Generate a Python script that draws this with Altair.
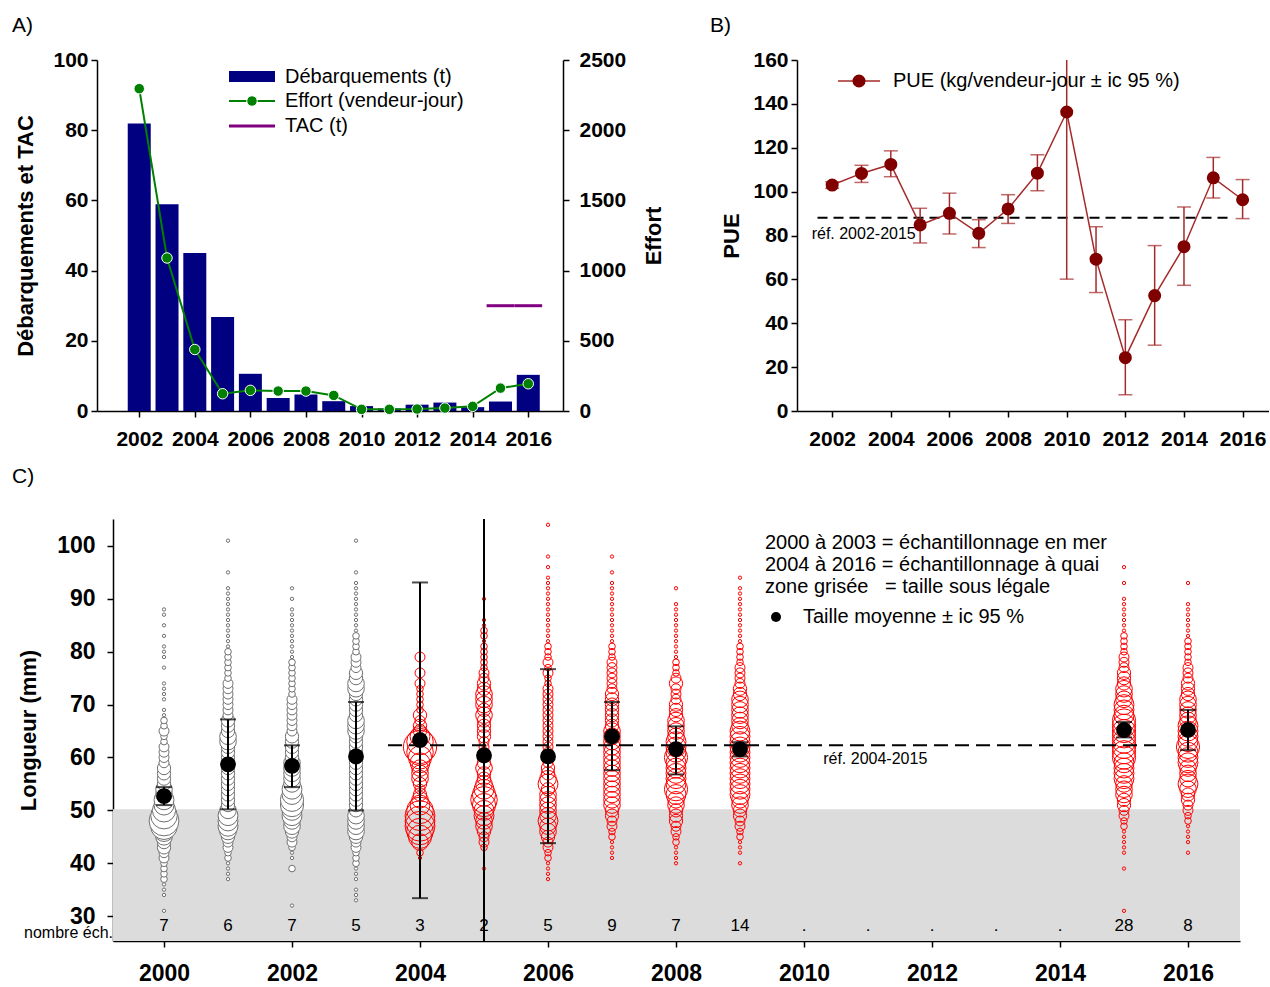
import altair as alt
import pandas as pd

FONT = "Liberation Sans"

# ---------------- Panel A : landings, effort, TAC ----------------
YEARS_A = list(range(2002, 2017))
LANDINGS_T = [81.9, 58.9, 45.0, 26.8, 10.6, 3.7, 4.7, 2.8, 1.4, 0.7, 1.8, 2.4, 1.1, 2.7, 10.3]
EFFORT_VJ = [2296, 1090, 438, 123, 147, 142, 142, 111, 12, 12, 14, 21, 33, 163, 194]
TAC_YEARS = [2015, 2016]
TAC_T = [30, 30]

# ---------------- Panel B : CPUE ----------------
YEARS_B = list(range(2002, 2017))
PUE = [103.0, 108.3, 112.4, 84.8, 90.1, 81.0, 92.1, 108.4, 136.3, 69.2, 24.3, 52.6, 74.9, 106.3, 96.3]
PUE_LO = [101.5, 104.2, 106.8, 76.6, 80.7, 74.5, 85.5, 100.4, 60.1, 54.0, 7.4, 30.0, 57.3, 97.1, 87.7]
PUE_HI = [104.5, 112.0, 118.6, 92.4, 99.3, 87.2, 98.6, 116.8, 212.5, 84.0, 41.6, 75.4, 93.0, 115.6, 105.5]
PUE_REF = 88.1
PUE_REF_YEARS = [2002, 2015]

# ---------------- Panel C : length frequencies ----------------
YEARS_C = [2000, 2001, 2002, 2003, 2004, 2005, 2006, 2007, 2008, 2009, 2015, 2016]
MEAN_C = [52.7, 58.7, 58.4, 60.2, 63.3, 60.4, 60.2, 64.0, 61.6, 61.6, 65.2, 65.2]
LO_C = [51.0, 50.2, 54.4, 50.0, 33.4, 8.4, 43.8, 57.6, 56.8, 60.2, 63.8, 61.4]
HI_C = [54.4, 67.2, 62.3, 70.5, 93.1, 112.4, 76.7, 70.5, 65.9, 62.9, 66.7, 69.0]
COUNT_YEARS = list(range(2000, 2017))
COUNT_LABELS = ["7", "6", "7", "5", "3", "2", "5", "9", "7", "14", ".", ".", ".", ".", ".", "28", "8"]
SEA_YEARS = [2000, 2001, 2002, 2003]
LEGAL_SIZE = 50.2
LEN_REF = 62.3
LEN_REF_YEARS = [2004, 2015]

# relative frequency index per 1 mm length class (first class = *_START)
F2000_START = 31
F2000 = [1, 0, 0, 1, 1, 1, 2, 2, 2, 2, 3, 3, 4, 4, 5, 6, 8, 9, 8, 7, 6, 6, 5, 5, 4, 4, 4, 4, 3, 3,
         3, 3, 2, 2, 3, 2, 2, 1, 1, 0, 1, 1, 1, 1, 0, 0, 1, 0, 1, 1, 1, 0, 1, 0, 1, 0, 1, 1]
F2001_START = 37
F2001 = [1, 1, 1, 1, 2, 2, 3, 3, 4, 5, 6, 6, 6, 5, 4, 4, 4, 4, 4, 4, 4, 4, 4, 4, 4, 4, 5, 5, 4, 4,
         4, 3, 3, 3, 3, 3, 3, 3, 2, 2, 2, 2, 2, 2, 1, 1, 1, 1, 1, 1, 1, 1, 1, 1, 1, 1, 0, 0, 1, 0,
         0, 0, 0, 0, 1]
F2002_START = 32
F2002 = [1, 0, 0, 0, 0, 0, 0, 2, 0, 1, 1, 2, 3, 3, 4, 5, 5, 6, 6, 7, 7, 6, 6, 5, 5, 5, 5, 5, 4, 4,
         4, 4, 4, 3, 3, 3, 3, 3, 3, 3, 2, 2, 2, 2, 2, 2, 2, 1, 1, 1, 1, 1, 1, 1, 1, 1, 1, 0, 1, 0, 1]
F2003_START = 33
F2003 = [1, 1, 1, 0, 1, 1, 1, 2, 2, 2, 3, 3, 4, 5, 5, 5, 5, 4, 4, 4, 4, 4, 4, 4, 4, 4, 4, 4, 4, 4,
         4, 4, 5, 5, 5, 4, 4, 4, 4, 4, 5, 5, 4, 4, 3, 3, 3, 2, 2, 2, 2, 1, 1, 1, 1, 1, 1, 1, 1, 1,
         1, 0, 1, 0, 0, 0, 0, 0, 1]
F2004_START = 41
F2004 = [1, 2, 0, 5, 7, 8, 9, 9, 9, 8, 6, 5, 4, 3, 4, 5, 5, 5, 6, 7, 8, 10, 8, 6, 4, 4, 3, 4, 2, 2,
         2, 2, 2, 3, 0, 3, 0, 0, 3]
F2005_START = 39
F2005 = [1, 0, 0, 0, 2, 3, 3, 4, 5, 5, 6, 6, 7, 8, 7, 6, 5, 4, 4, 5, 4, 3, 3, 3, 3, 4, 4, 4, 4, 5,
         4, 5, 5, 5, 4, 4, 3, 3, 2, 2, 2, 2, 2, 1, 2, 2, 1, 1, 0, 0, 0, 1]
F2006_START = 37
F2006 = [1, 1, 1, 1, 2, 2, 3, 3, 4, 5, 5, 6, 5, 5, 5, 5, 5, 4, 6, 5, 4, 4, 3, 3, 3, 3, 3, 3, 3, 3,
         3, 3, 3, 3, 3, 3, 3, 2, 2, 3, 2, 3, 2, 2, 2, 1, 1, 1, 1, 1, 1, 1, 1, 1, 1, 1, 1, 1, 0, 1,
         0, 1, 0, 0, 0, 0, 0, 1]
F2007_START = 41
F2007 = [1, 1, 1, 1, 2, 2, 3, 3, 4, 4, 5, 5, 5, 5, 5, 5, 5, 5, 5, 5, 5, 5, 5, 5, 5, 4, 4, 4, 4, 4,
         4, 4, 3, 3, 3, 3, 3, 3, 2, 2, 2, 1, 1, 1, 1, 1, 1, 1, 1, 1, 1, 1, 1, 0, 1, 0, 0, 1]
F2008_START = 40
F2008 = [1, 1, 1, 1, 2, 2, 3, 3, 4, 4, 4, 5, 5, 6, 7, 6, 6, 6, 6, 6, 7, 6, 6, 6, 5, 5, 5, 5, 4, 4,
         4, 3, 3, 3, 4, 3, 2, 2, 2, 1, 1, 1, 1, 1, 1, 1, 1, 1, 1, 1, 0, 0, 1]
F2009_START = 40
F2009 = [1, 0, 1, 1, 1, 2, 2, 3, 3, 4, 4, 5, 5, 6, 6, 6, 6, 6, 6, 6, 6, 6, 6, 6, 6, 6, 5, 5, 5, 5,
         5, 5, 4, 4, 3, 3, 3, 3, 2, 2, 2, 2, 1, 1, 1, 1, 1, 1, 1, 1, 1, 1, 1, 0, 1]
F2015_START = 31
F2015 = [1, 0, 0, 0, 0, 0, 0, 0, 1, 0, 0, 1, 1, 1, 1, 1, 2, 2, 3, 3, 4, 4, 5, 5, 5, 6, 6, 6, 6, 7,
         7, 7, 7, 7, 7, 7, 7, 6, 6, 6, 5, 5, 5, 4, 4, 4, 3, 3, 3, 2, 2, 2, 2, 1, 1, 1, 1, 1, 1, 1,
         0, 0, 1, 0, 0, 1]
F2016_START = 42
F2016 = [1, 0, 1, 1, 1, 1, 2, 2, 3, 3, 4, 4, 5, 6, 5, 5, 5, 6, 6, 6, 7, 6, 6, 6, 6, 5, 5, 5, 5, 5,
         4, 4, 4, 3, 3, 3, 2, 2, 2, 2, 2, 1, 1, 1, 1, 1, 1, 1, 0, 0, 0, 1]

FREQS = {
    2000: (F2000_START, F2000), 2001: (F2001_START, F2001), 2002: (F2002_START, F2002),
    2003: (F2003_START, F2003), 2004: (F2004_START, F2004), 2005: (F2005_START, F2005),
    2006: (F2006_START, F2006), 2007: (F2007_START, F2007), 2008: (F2008_START, F2008),
    2009: (F2009_START, F2009), 2015: (F2015_START, F2015), 2016: (F2016_START, F2016),
}

# ---------------- common styling ----------------
LBL = dict(labelFont=FONT, labelFontWeight="bold", labelColor="black",
           titleFont=FONT, titleFontWeight="bold", titleColor="black",
           domainColor="black", tickColor="black", domainWidth=1.5, tickWidth=1.5,
           grid=False, labelOverlap=False, labelFlush=False, format="d")
one = pd.DataFrame({"k": [0]})
LEG_FS = 20


def free_text(txt, x, y, size, align="left"):
    return alt.Chart(one).mark_text(align=align, baseline="middle", fontSize=size,
                                    font=FONT, color="black").encode(
        x=alt.value(x), y=alt.value(y), text=alt.value(txt))


def panel_title(txt, dx, offset):
    return alt.TitleParams(txt, anchor="start", frame="group", dx=dx, dy=22, offset=offset,
                           baseline="alphabetic", fontSize=21, fontWeight="normal",
                           font=FONT, color="black")


# ================= Panel A =================
WA, HA = 466, 351
sxA = alt.Scale(domain=[2000.66, 2017.07], nice=False, zero=False)
syA = alt.Scale(domain=[0, 100], nice=False)
syA2 = alt.Scale(domain=[0, 2500], nice=False)
axXA = alt.Axis(values=list(range(2002, 2017, 2)), title=None, tickSize=6,
                labelPadding=11, labelFontSize=21, **LBL)
axYA = alt.Axis(values=[0, 20, 40, 60, 80, 100], orient="left", title="Débarquements et TAC",
                tickSize=6, labelPadding=3, labelFontSize=21, titleFontSize=22,
                titlePadding=15, **LBL)
axYA2 = alt.Axis(values=[0, 500, 1000, 1500, 2000, 2500], orient="right", title="Effort",
                 tickSize=6, labelPadding=10, labelFontSize=21, titleFontSize=22,
                 titleAngle=270, titleBaseline="top", titlePadding=18, **LBL)

dfA = pd.DataFrame({"year": YEARS_A, "land": LANDINGS_T, "effort": EFFORT_VJ})
dfTAC = pd.DataFrame({"year": TAC_YEARS, "tac": TAC_T})

barsA = alt.Chart(dfA).mark_bar(color="#000080", size=23).encode(
    x=alt.X("year:Q", scale=sxA, axis=axXA), y=alt.Y("land:Q", scale=syA, axis=axYA))
tacA = alt.Chart(dfTAC).transform_calculate(
    x0="datum.year - 0.5", x1="datum.year + 0.5").mark_rule(
    color="#800080", strokeWidth=3).encode(
    x=alt.X("x0:Q", scale=sxA, axis=axXA), x2="x1:Q", y=alt.Y("tac:Q", scale=syA, axis=axYA))
effL = alt.Chart(dfA).mark_line(color="#008000", strokeWidth=2).encode(
    x=alt.X("year:Q", scale=sxA, axis=axXA), y=alt.Y("effort:Q", scale=syA2, axis=axYA2))
effP = alt.Chart(dfA).mark_point(filled=True, fill="#008000", stroke="white", strokeWidth=1,
                                 size=110, opacity=1).encode(
    x=alt.X("year:Q", scale=sxA, axis=axXA), y=alt.Y("effort:Q", scale=syA2, axis=axYA2))

legA = [
    alt.Chart(one).mark_rect(color="#000080").encode(
        x=alt.value(132), x2=alt.value(178), y=alt.value(11), y2=alt.value(22)),
    alt.Chart(one).mark_rule(color="#008000", strokeWidth=2).encode(
        x=alt.value(132), x2=alt.value(178), y=alt.value(41)),
    alt.Chart(one).mark_point(filled=True, fill="#008000", stroke="white", strokeWidth=1,
                              size=110, opacity=1).encode(x=alt.value(155), y=alt.value(41)),
    alt.Chart(one).mark_rule(color="#800080", strokeWidth=3).encode(
        x=alt.value(132), x2=alt.value(178), y=alt.value(66)),
    free_text("Débarquements (t)", 188, 17, LEG_FS),
    free_text("Effort (vendeur-jour)", 188, 41, LEG_FS),
    free_text("TAC (t)", 188, 66, LEG_FS),
]

panelA = alt.layer(alt.layer(barsA, tacA), alt.layer(effL, effP), *legA).resolve_scale(
    y="independent").properties(width=WA, height=HA, title=panel_title("A)", -85, 18))

# ================= Panel B =================
WB, HB = 472, 351
sxB = alt.Scale(domain=[2000.8, 2016.9], nice=False, zero=False)
syB = alt.Scale(domain=[0, 160], nice=False)
axXB = alt.Axis(values=list(range(2002, 2017, 2)), title=None, tickSize=6,
                labelPadding=11, labelFontSize=21, **LBL)
axYB = alt.Axis(values=list(range(0, 161, 20)), orient="left", title="PUE", tickSize=6,
                labelPadding=3, labelFontSize=21, titleFontSize=22, titlePadding=9, **LBL)
RED_L = "#a52a2a"
RED_P = "#800000"
dfB = pd.DataFrame({"year": YEARS_B, "pue": PUE, "lo": PUE_LO, "hi": PUE_HI})
dfRefB = pd.DataFrame({"a": [PUE_REF_YEARS[0]], "b": [PUE_REF_YEARS[1]], "v": [PUE_REF]})
xB = alt.X("year:Q", scale=sxB, axis=axXB)

refB = alt.Chart(dfRefB).transform_calculate(
    x0="datum.a - 0.5", x1="datum.b + 0.5").mark_rule(
    color="black", strokeWidth=2, strokeDash=[10, 6]).encode(
    x=alt.X("x0:Q", scale=sxB, axis=axXB), x2="x1:Q", y=alt.Y("v:Q", scale=syB, axis=axYB))
refTxtB = free_text("réf. %d-%d" % tuple(PUE_REF_YEARS), 0, 0, 16).encode(
    x=alt.datum(2001.3), y=alt.datum(80.7))
errB = alt.Chart(dfB).mark_rule(color=RED_L, strokeWidth=1.5, clip=True).encode(
    x=xB, y=alt.Y("lo:Q", scale=syB, axis=axYB), y2="hi:Q")
capB = alt.Chart(dfB).transform_fold(["lo", "hi"], as_=["which", "val"]).mark_tick(
    orient="horizontal", size=14, thickness=1.5, color=RED_L, clip=True).encode(
    x=xB, y=alt.Y("val:Q", scale=syB, axis=axYB))
lineB = alt.Chart(dfB).mark_line(color=RED_L, strokeWidth=1.5).encode(
    x=xB, y=alt.Y("pue:Q", scale=syB, axis=axYB))
ptsB = alt.Chart(dfB).mark_point(filled=True, color=RED_P, size=170, opacity=1).encode(
    x=xB, y=alt.Y("pue:Q", scale=syB, axis=axYB))
legB = [
    alt.Chart(one).mark_rule(color=RED_L, strokeWidth=1.5).encode(
        x=alt.value(41), x2=alt.value(83), y=alt.value(21)),
    alt.Chart(one).mark_point(filled=True, color=RED_P, size=170, opacity=1).encode(
        x=alt.value(62), y=alt.value(21)),
    free_text("PUE (kg/vendeur-jour ± ic 95 %)", 96, 21, LEG_FS),
]
panelB = alt.layer(refB, refTxtB, errB, capB, lineB, ptsB, *legB).properties(
    width=WB, height=HB, title=panel_title("B)", -87, 18))

# ================= Panel C =================
WC, HC = 1127, 422
sxC = alt.Scale(domain=[1999.203, 2016.8125], nice=False, zero=False)
syC = alt.Scale(domain=[25.3, 105.1], nice=False, zero=False)
axXC = alt.Axis(values=list(range(2000, 2017, 2)), title=None, tickSize=6,
                labelPadding=15, labelFontSize=23, **LBL)
axYC = alt.Axis(values=list(range(30, 101, 10)), orient="left", title="Longueur (mm)",
                tickSize=6, labelPadding=12, labelFontSize=23, titleFontSize=22,
                titlePadding=16, **LBL)

rows = []
for yr, (start, fr) in FREQS.items():
    grp = "mer" if yr in SEA_YEARS else "quai"
    for i, f in enumerate(fr):
        if f > 0:
            rows.append({"year": yr, "len": start + i, "freq": f, "grp": grp})
dfBub = pd.DataFrame(rows)
dfMean = pd.DataFrame({"year": YEARS_C, "m": MEAN_C, "lo": LO_C, "hi": HI_C})
dfCount = pd.DataFrame({"year": COUNT_YEARS, "lab": COUNT_LABELS})
dfRefC = pd.DataFrame({"a": [LEN_REF_YEARS[0]], "b": [LEN_REF_YEARS[1]], "v": [LEN_REF]})
dfLegal = pd.DataFrame({"v": [LEGAL_SIZE]})

xC = alt.X("year:Q", scale=sxC, axis=axXC)
sizeC = alt.Size("freq:Q", scale=alt.Scale(type="pow", exponent=2, domain=[0, 10],
                                           range=[0, 1100]), legend=None)

grey = alt.Chart(dfLegal).mark_rect(color="#dcdcdc").encode(
    x=alt.value(0), x2=alt.value(WC), y=alt.Y("v:Q", scale=syC, axis=axYC), y2=alt.value(HC))
bubGrey = alt.Chart(dfBub).transform_filter(alt.datum.grp == "mer").mark_point(
    shape="circle", filled=True, fill="white", stroke="#707070", strokeWidth=1,
    opacity=1).encode(x=xC, y=alt.Y("len:Q", scale=syC, axis=axYC), size=sizeC)
bubRed = alt.Chart(dfBub).transform_filter(alt.datum.grp == "quai").mark_point(
    shape="circle", filled=False, color="#ff0000", strokeWidth=1, opacity=1).encode(
    x=xC, y=alt.Y("len:Q", scale=syC, axis=axYC), size=sizeC)
refC = alt.Chart(dfRefC).transform_calculate(
    x0="datum.a - 0.5", x1="datum.b + 0.5").mark_rule(
    color="black", strokeWidth=2, strokeDash=[14, 7]).encode(
    x=alt.X("x0:Q", scale=sxC, axis=axXC), x2="x1:Q", y=alt.Y("v:Q", scale=syC, axis=axYC))
refTxtC = free_text("réf. %d-%d" % tuple(LEN_REF_YEARS), 0, 0, 16).encode(
    x=alt.datum(2010.3), y=alt.datum(59.7))
errC = alt.Chart(dfMean).mark_rule(color="black", strokeWidth=2, clip=True).encode(
    x=xC, y=alt.Y("lo:Q", scale=syC, axis=axYC), y2="hi:Q")
capC = alt.Chart(dfMean).transform_fold(["lo", "hi"], as_=["which", "val"]).mark_tick(
    orient="horizontal", size=16, thickness=2, color="black", clip=True).encode(
    x=xC, y=alt.Y("val:Q", scale=syC, axis=axYC))
meanC = alt.Chart(dfMean).mark_point(filled=True, color="black", size=250, opacity=1).encode(
    x=xC, y=alt.Y("m:Q", scale=syC, axis=axYC))
countC = alt.Chart(dfCount).mark_text(fontSize=17, font=FONT, color="black",
                                      baseline="middle").encode(
    x=xC, y=alt.datum(28.1), text="lab:N")
nombre = free_text("nombre éch.", 0, 0, 16, align="right").encode(
    x=alt.datum(1999.203), y=alt.datum(26.8))
legC = [
    free_text("2000 à 2003 = échantillonnage en mer", 652, 24, LEG_FS),
    free_text("2004 à 2016 = échantillonnage à quai", 652, 46, LEG_FS),
    free_text("zone grisée\u00a0\u00a0\u00a0= taille sous légale", 652, 68, LEG_FS),
    alt.Chart(one).mark_point(filled=True, color="black", size=100, opacity=1).encode(
        x=alt.value(663), y=alt.value(98)),
    free_text("Taille moyenne ± ic 95 %", 690, 98, LEG_FS),
]
panelC = alt.layer(grey, bubGrey, bubRed, refC, refTxtC, errC, capC, meanC, countC, nombre,
                   *legC).properties(width=WC, height=HC, title=panel_title("C)", -101, 37))

spacer = alt.Chart(one).mark_point(opacity=0).encode(
    x=alt.X("k:Q", axis=None), y=alt.Y("k:Q", axis=None)).properties(width=16, height=HC)

top = alt.hconcat(panelA, panelB, spacing=234, bounds="flush")
bottom = alt.hconcat(spacer, panelC, spacing=0, bounds="flush")
chart = alt.vconcat(top, bottom, spacing=17).properties(
    padding={"left": 12, "top": 15, "right": 0, "bottom": 0}
).configure(font=FONT, view=alt.ViewConfig(strokeWidth=0))

chart.save("out.html", embed_options={"renderer": "svg", "actions": False})
